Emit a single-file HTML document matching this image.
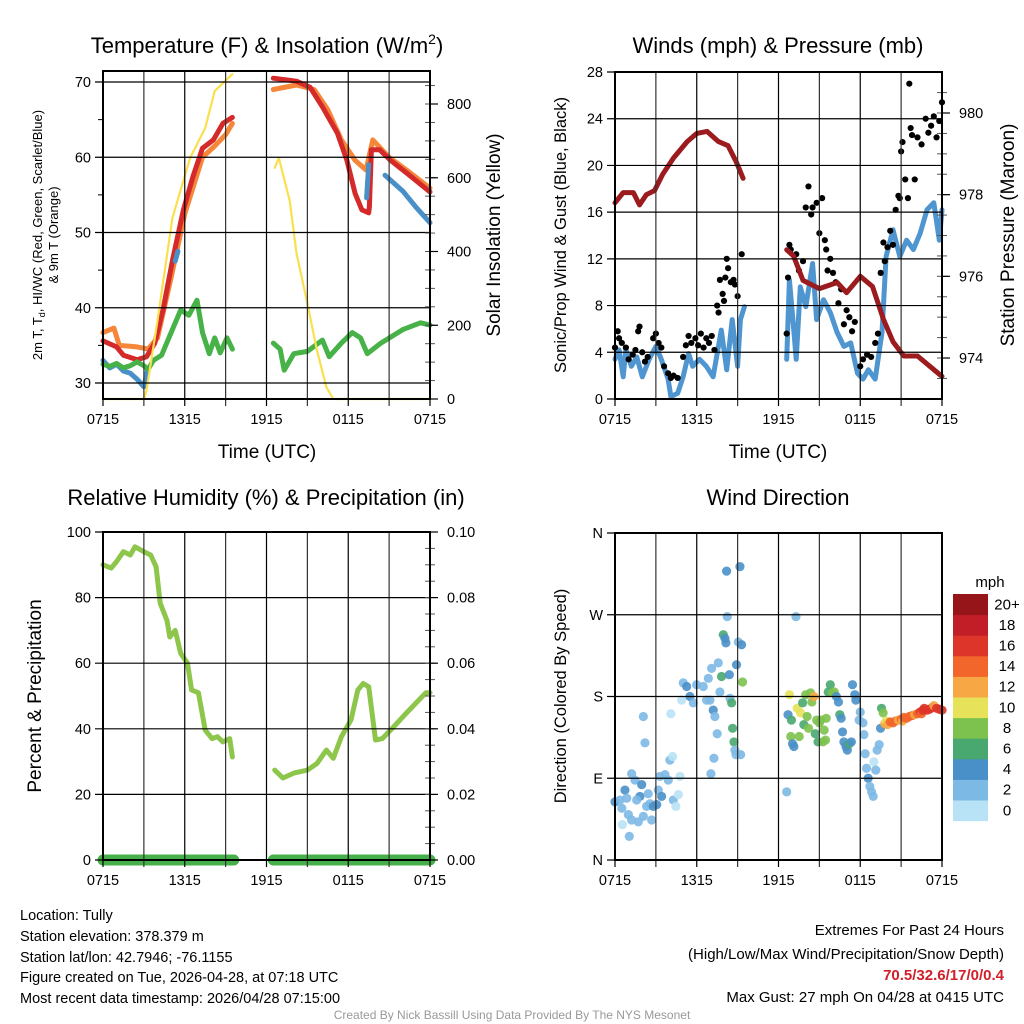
<!DOCTYPE html>
<html><head><meta charset="utf-8"><style>
html,body{margin:0;padding:0;background:#fff;width:1024px;height:1024px;overflow:hidden}
svg{display:block;font-family:"Liberation Sans",sans-serif}
text{fill:#000}
</style></head><body>
<svg id="fig" width="1024" height="1024" viewBox="0 0 1024 1024">
<g id="static">
<text x="267" y="53" font-size="22" text-anchor="middle">Temperature (F) &amp; Insolation (W/m<tspan font-size="14" dy="-9">2</tspan><tspan dy="9">)</tspan></text>
<text x="778" y="53" font-size="22" text-anchor="middle">Winds (mph) &amp; Pressure (mb)</text>
<text x="266" y="505" font-size="22" text-anchor="middle">Relative Humidity (%) &amp; Precipitation (in)</text>
<text x="778" y="505" font-size="22" text-anchor="middle">Wind Direction</text>
<text x="267" y="458" font-size="19" text-anchor="middle">Time (UTC)</text>
<text x="778" y="458" font-size="19" text-anchor="middle">Time (UTC)</text>
<g transform="translate(42,235) rotate(-90)"><text x="0" y="0" font-size="13" text-anchor="middle">2m T, T<tspan font-size="9" dy="3">d</tspan><tspan dy="-3">, HI/WC (Red, Green, Scarlet/Blue)</tspan></text><text x="0" y="16" font-size="13" text-anchor="middle">&amp; 9m T (Orange)</text></g>
<text transform="translate(500,235) rotate(-90)" font-size="19" text-anchor="middle">Solar Insolation (Yellow)</text>
<text transform="translate(566,235) rotate(-90)" font-size="16.5" text-anchor="middle">Sonic/Prop Wind &amp; Gust (Blue, Black)</text>
<text transform="translate(1014,235) rotate(-90)" font-size="19" text-anchor="middle">Station Pressure (Maroon)</text>
<text transform="translate(41,696) rotate(-90)" font-size="19" text-anchor="middle">Percent &amp; Precipitation</text>
<text transform="translate(566,696) rotate(-90)" font-size="16.5" text-anchor="middle">Direction (Colored By Speed)</text>
<g font-size="14.5">
<text x="20" y="920">Location: Tully</text>
<text x="20" y="941">Station elevation: 378.379 m</text>
<text x="20" y="962">Station lat/lon: 42.7946; -76.1155</text>
<text x="20" y="982">Figure created on Tue, 2026-04-28, at 07:18 UTC</text>
<text x="20" y="1003">Most recent data timestamp: 2026/04/28 07:15:00</text>
</g>
<g font-size="15" text-anchor="end">
<text x="1004" y="935">Extremes For Past 24 Hours</text>
<text x="1004" y="959">(High/Low/Max Wind/Precipitation/Snow Depth)</text>
<text x="1004" y="980" style="fill:#D0202A;font-weight:bold">70.5/32.6/17/0/0.4</text>
<text x="1004" y="1002">Max Gust: 27 mph On 04/28 at 0415 UTC</text>
</g>
<text x="512" y="1019" font-size="12" text-anchor="middle" style="fill:#999">Created By Nick Bassill Using Data Provided By The NYS Mesonet</text>
<text x="990" y="587" font-size="15" text-anchor="middle">mph</text>
</g>
</svg>
<script>
// ---------- DATA ----------
const tempHours = [0,1,1.5,2.5,3.2,3.8,4.4,5.1,5.9,6.6,7.3,8.1,8.8,9.5,null,12.5,14.2,15.2,16.1,17.2,17.9,18.5,19,19.5,19.55,19.7,20.3,21.1,22.3,24];
const tempRed   = [35.6,34.8,33.7,33.1,33.5,35.3,39.7,46.3,53,57.4,61.2,62.3,64.5,65.3,null,70.5,70.1,69.3,66.7,63.2,59.6,55.2,53,52.6,53.5,61,61,59.6,57.9,55.4];
const orangeHours = [0,0.8,1.2,2.5,3.3,4,5,6,7.3,8.2,9,9.5,null,12.5,14.2,15.5,16.5,17.5,18.5,19.3,19.8,21,22.5,24];
const tempOrange  = [36.7,37.3,35,34.8,34.5,36,44,52.5,60,61.5,63,64.5,null,69,69.6,69,66.3,62.3,59.6,58.3,62.3,60,58,55.9];
const blueHours = [0,0.5,1,1.5,2,2.5,3,3.3,null,5.3,5.5,null,19.35,19.5,null,20.7,22,23,24];
const tempBlue  = [33,32,32.5,31.6,31.3,30.5,29.5,32,null,46.2,47.5,null,54.6,59,null,57.6,55.5,53.3,51.3];
const dewHours = [0,0.5,1,1.5,2,2.5,3,3.3,3.7,4.3,5,5.7,6.3,6.9,7.3,7.8,8.2,8.6,9.1,9.5,null,12.5,13,13.3,14,15,16.1,16.6,17.5,18.3,18.9,19.4,20.4,22,23.3,24];
const tempDew  = [32.5,32.2,32.6,32,32.3,32.8,32.3,31.8,33,33.7,36.7,39.7,39,41,36.7,33.9,36,34,36,34.5,null,35.3,34.5,31.7,33.9,34.2,35.7,33.5,35.3,36.7,36,33.9,35.3,37.1,38,37.7];
const solarHours = [0,3,3.2,4,5.1,6.4,7.5,8.2,9.5,null,12.6,12.9,13.7,14.2,15,15.7,16.4,16.9,24];
const solarVals  = [0,0,24,213,492,654,735,835,881,null,627,654,538,395,259,132,32,0,0];
const tempTicks = [30,40,50,60,70];
const solarTicks = [0,200,400,600,800];
const timeLabels = ['0715','1315','1915','0115','0715'];
const timeLabelHours = [0,6,12,18,24];

const windHours = [0,0.3,0.6,0.8,1.2,1.6,2,2.5,3,3.4,3.9,4.1,4.6,5,5.4,5.7,6.2,6.7,7.2,7.5,7.8,8.2,8.6,9,9.2,9.5,null,12.6,12.8,13.1,13.3,13.6,14,14.5,14.8,15.3,15.8,16.3,16.8,17.3,17.8,18.2,18.6,19.1,19.6,19.9,20.4,20.9,21.4,21.9,22.4,22.9,23.4,23.8,24];
const windVals  = [3.4,4.2,1.9,4.2,2.8,3.6,1.9,3.4,4.5,3.4,1.7,0.2,0.5,1.9,3.9,2.8,3.4,2.8,1.9,3.9,5.9,2.5,6.8,2.8,6.8,7.9,null,3.4,10.2,6.2,3.4,9.6,7.9,11.6,6.8,8.5,7.4,5.7,4.5,4.8,2.2,1.7,2.5,1.7,5.7,12.2,14.5,12.2,13.6,12.8,14.2,16.2,16.8,13.6,16.2];
const gustHours = [0,0.2,0.3,0.5,0.8,1.0,1.3,1.5,1.7,1.8,2.0,2.2,2.4,2.8,3.0,3.2,3.4,3.6,3.9,4.1,4.3,4.6,5.0,5.2,5.4,5.6,5.9,6.1,6.3,6.5,6.7,6.9,7.1,7.3,7.5,7.6,7.7,7.9,8.0,8.1,8.2,8.3,8.5,8.7,8.8,9.0,9.3,12.6,12.7,12.8,12.9,13.3,13.5,13.8,14.0,14.2,14.4,14.5,14.8,15.0,15.2,15.4,15.5,15.6,15.8,16.0,16.2,16.4,16.6,16.8,17.0,17.2,17.4,17.6,18.0,18.2,18.5,18.8,19.1,19.3,19.5,19.7,19.8,20.0,20.2,20.4,20.6,20.8,20.9,21.0,21.1,21.3,21.5,21.6,21.7,21.8,22.0,22.2,22.5,22.8,23.0,23.2,23.4,23.6,23.8,24.0];
const gustVals  = [4.4,5.8,5.2,4.8,4.4,3.4,3.8,4.2,5.8,6.2,4.0,3.2,3.6,5.2,5.6,4.8,4.4,2.8,2.2,1.8,2.0,1.8,3.6,4.6,5.4,4.8,5.2,4.6,5.6,4.4,5.2,4.8,5.4,4.2,8.0,7.4,10.2,9.0,8.4,10.4,12.0,11.2,10.0,10.2,9.8,8.8,12.4,5.6,10.4,13.2,12.8,12.4,11.0,11.8,16.4,18.2,15.8,16.4,16.8,14.2,17.2,13.6,12.8,11.0,12.0,10.8,10.0,8.2,9.4,6.4,7.6,7.0,5.8,6.6,2.8,3.4,3.8,3.6,4.8,5.6,10.8,13.4,11.8,13.0,14.4,13.2,16.2,17.4,17.2,21.2,22.0,18.8,17.2,27.0,23.2,22.6,18.8,22.4,21.8,24.0,22.8,23.4,24.2,22.4,23.8,25.4];
const presHours = [0,0.6,1.35,1.8,2.3,2.9,3.5,4.3,5.3,6,6.75,7.6,8.3,8.9,9.4,null,12.6,13.1,13.8,15,16.3,17,18,18.9,19.7,20.4,21.2,22.2,23.1,24];
const presVals  = [977.8,978.05,978.05,977.75,978,978.1,978.5,978.9,979.3,979.5,979.55,979.3,979.2,978.8,978.4,null,976.65,976.5,975.9,975.7,975.85,975.6,976,975.75,974.95,974.4,974.05,974.05,973.8,973.55];
const windTicks = [0,4,8,12,16,20,24,28];
const presTicks = [974,976,978,980];

const rhHours = [0,0.6,1,1.5,2,2.35,3,3.5,3.9,4.2,4.7,4.9,5.3,5.7,6.2,6.5,7.0,7.5,8,8.4,8.8,9.3,9.5,null,12.6,13.2,14,15,15.7,16.4,16.9,17.5,18.2,18.7,19.1,19.5,20,20.5,21.2,22.2,23,23.7,24];
const rhVals  = [90,89,91,94,93,95.5,94,93,89.4,78.3,73,68,70,63,60,51.8,51,39.6,37,37.6,36,37,31.4,null,27.4,25,26.5,27.4,29.4,33.5,31,37.6,42.7,51.8,53.8,52.8,36.6,37,40,44.5,48,51,51];
const precipHours = [0,9.6,null,12.5,24];
const precipVals  = [0,0,null,0,0];
const rhTicks = [0,20,40,60,80,100];
const precipTicks = ['0.00','0.02','0.04','0.06','0.08','0.10'];

const dirHours = [0,0.37,0.5,0.73,0.86,0.98,1.05,1.22,1.22,1.47,1.71,1.83,1.96,2.08,2.32,2.44,2.57,2.69,2.81,3.06,3.18,3.3,3.42,3.67,3.91,4.03,4.23,4.28,4.47,4.65,4.77,0.54,1.59,2.08,2.2,4.1,
5.01,5.26,5.5,5.75,5.99,6.48,6.72,6.97,7.21,7.33,7.5,6.85,7.09,7.58,7.7,7.82,7.95,8.07,8.14,8.19,8.24,8.39,8.44,8.56,8.63,8.73,8.8,8.88,8.92,9.05,9.17,9.29,9.22,9.36,7.26,7.04,4.89,
12.6,12.7,12.8,12.95,12.9,13.03,13.13,13.28,13.37,13.52,13.62,13.77,13.86,14.0,14.1,14.2,14.35,14.45,14.6,14.7,14.8,14.9,15.0,15.1,15.25,15.35,15.45,15.5,15.65,15.8,15.95,16.1,16.25,16.4,16.5,16.6,16.7,16.8,16.95,17.05,17.2,17.35,17.43,17.6,17.68,17.92,18.0,18.2,18.27,18.36,18.46,18.58,18.7,18.83,18.95,19.0,19.14,19.24,19.39,19.49,19.56,19.68,
19.8,19.9,20.0,20.2,20.4,20.6,20.8,21.0,21.1,21.2,21.4,21.6,21.8,22.0,22.2,22.4,22.5,22.6,22.7,22.9,23.1,23.3,23.4,23.6,23.8,24.0];
const dirDegs = [64,66,57,77,68,50,26,44,95,88,42,70,83,48,59,73,62,44,59,61,77,92,70,94,88,110,114,66,59,72,92,39,66,158,129,161,
195,191,180,173,193,191,176,176,165,158,139,200,211,217,185,202,248,244,239,318,268,204,178,173,145,130,121,116,215,240,323,237,116,196,112,95,176,
75,160,182,154,136,128,125,268,167,136,162,173,149,182,158,145,184,174,180,139,154,130,151,154,130,143,132,156,185,193,184,185,180,174,160,156,141,130,125,121,128,130,193,182,176,154,163,151,138,117,101,90,81,75,70,108,99,121,127,145,167,162,
150,153,149,152,151,153,154,155,153,157,156,158,159,160,161,163,161,165,167,165,166,168,170,167,166,165];
const dirSpeeds = [4,2,2,4,2,2,2,2,2,2,2,4,4,2,2,2,2,2,4,4,2,2,4,2,2,2,0,2,0,0,0,0,2,2,2,0,
2,4,4,2,2,2,2,2,4,2,2,2,2,2,2,6,6,4,4,4,2,4,2,6,6,6,2,2,4,2,4,4,2,8,2,2,0,
2,4,10,6,8,4,4,2,10,8,10,6,6,8,8,8,8,8,12,6,8,6,8,8,8,8,8,8,6,6,8,8,4,4,6,4,4,4,4,4,6,4,4,4,4,2,2,2,2,2,2,4,2,2,2,0,2,2,2,4,6,8,
12,10,12,14,14,14,12,14,12,14,14,14,14,12,14,16,14,16,16,16,16,16,12,16,16,16];
const dirTicks = ['N','E','S','W','N'];
const dirTickDegs = [0,90,180,270,360];
const cbLabels = ['0','2','4','6','8','10','12','14','16','18','20+'];
const cbColors = ['#B8E2F5','#7DB9E5','#4A90C8','#49A86F','#7DC24E','#E6E25A','#F7A845','#F2662C','#DD3529','#C21E27','#961519'];

// ---------- DRAW ----------
const NS='http://www.w3.org/2000/svg';
const svg=document.getElementById('fig');
function mk(parent,tag,attrs){const e=document.createElementNS(NS,tag);for(const k in attrs)e.setAttribute(k,attrs[k]);parent.appendChild(e);return e;}
function lin(d0,d1,r0,r1){return v=>r0+(v-d0)*(r1-r0)/(d1-d0);}

const P={
 tl:{x0:103,x1:430,y0:71,y1:399},
 tr:{x0:615,x1:942,y0:72,y1:399},
 bl:{x0:103,x1:430,y0:532,y1:860},
 br:{x0:615,x1:942,y0:533,y1:860}
};
for(const k in P){P[k].x=lin(0,24,P[k].x0,P[k].x1);}
const yTemp=lin(30,70,383,82);
const ySolar=lin(0,800,399,104);
const yWind=lin(0,28,399,72);
const yPres=lin(974,980,358,113);
const yRH=lin(0,100,860,532);
const yPrecip=lin(0,0.1,860,532);
const yDir=lin(0,360,860,533);

function pathD(hs,vs,xf,yf){let d='',pen=false;for(let i=0;i<hs.length;i++){if(hs[i]===null||vs[i]===null){pen=false;continue;}d+=(pen?'L':'M')+xf(hs[i]).toFixed(1)+','+yf(vs[i]).toFixed(1);pen=true;}return d;}

function frame(p,name){
 const g=mk(svg,'g',{});
 
 
 for(let h=0;h<=24;h+=3){
  const gl=mk(g,'line',{x1:p.x(h),x2:p.x(h),y1:p.y0,y2:p.y1+7,stroke:(h%6===0?'#000':'#333'),'stroke-width':1.2});
  
  
 }
 const lbl=mk(g,'g',{'font-size':14.5,'text-anchor':'middle'});
 
 
 timeLabels.forEach((t,i)=>{const tx=mk(lbl,'text',{x:p.x(timeLabelHours[i]),y:p.y1+25});tx.textContent=t;
  
  });
 return g;
}
function hgrid(g,p,vals,yf,labels,side){
 vals.forEach((v,i)=>{const y=yf(v);
  const l=mk(g,'line',{x1:p.x0-8,x2:p.x1+(side?8:0),y1:y,y2:y,stroke:'#000','stroke-width':1.2});
  
  
  const t=mk(g,'text',{x:p.x0-12,y:y+5,'font-size':14.5,'text-anchor':'end'});t.textContent=labels?labels[i]:v;
  
  });
}
function border(g,p){
 const r=mk(g,'rect',{x:p.x0,y:p.y0,width:p.x1-p.x0,height:p.y1-p.y0,fill:'none',stroke:'#000','stroke-width':2});
 
 
}
function rightAxis(g,p,vals,yf,labels,minorStep,v0,v1){
 for(let v=v0;v<=v1+1e-9;v+=minorStep){const y=yf(v);if(y<p.y0-1||y>p.y1+1)continue;
  const l=mk(g,'line',{x1:p.x1-5,x2:p.x1+5,y1:y,y2:y,stroke:'#555','stroke-width':1});
  
  }
 vals.forEach((v,i)=>{const y=yf(v);
  const l=mk(g,'line',{x1:p.x1,x2:p.x1+8,y1:y,y2:y,stroke:'#000','stroke-width':1.2});
  
  
  const t=mk(g,'text',{x:p.x1+17,y:y+5,'font-size':14.5});t.textContent=labels?labels[i]:v;
  
  });
}
function line(p,hs,vs,yf,color,w,name){
 const e=mk(svg,'path',{d:pathD(hs,vs,p.x,yf),fill:'none',stroke:color,'stroke-width':w,'stroke-linejoin':'round','stroke-linecap':'round'});
 
 
 return e;
}

// Top-left
let g=frame(P.tl,'temperature');
hgrid(g,P.tl,tempTicks,yTemp,null,false);
[35,45,55,65].forEach(v=>{const m=mk(g,'line',{x1:P.tl.x0-5,x2:P.tl.x0,y1:yTemp(v),y2:yTemp(v),stroke:'#000'});
 
 });
rightAxis(g,P.tl,solarTicks,ySolar,null,50,0,850);
line(P.tl,orangeHours,tempOrange,yTemp,'#F5863A',5,'temp-9m-orange-line');
line(P.tl,tempHours,tempRed,yTemp,'#D52A2A',5,'temp-2m-red-line');
line(P.tl,blueHours,tempBlue,yTemp,'#4A90C8',5,'heat-index-windchill-blue-line');
line(P.tl,dewHours,tempDew,yTemp,'#46B248',5,'dewpoint-green-line');
line(P.tl,solarHours,solarVals,ySolar,'#FAE04E',2.2,'solar-insolation-line');
border(g,P.tl);
svg.appendChild(g);

// Top-right
g=frame(P.tr,'winds');
hgrid(g,P.tr,windTicks,yWind,null,false);
rightAxis(g,P.tr,presTicks,yPres,null,0.5,973.5,980.5);
line(P.tr,windHours,windVals,yWind,'#4F95D0',5,'sustained-wind-line');
const gg=mk(svg,'g',{});


gustHours.forEach((h,i)=>{const c=mk(gg,'circle',{cx:P.tr.x(h),cy:yWind(gustVals[i]),r:3.1,fill:'#000'});
 
 });
line(P.tr,presHours,presVals,yPres,'#9B1B1E',5,'station-pressure-line');
border(g,P.tr);
svg.appendChild(g);

// Bottom-left
g=frame(P.bl,'humidity');
hgrid(g,P.bl,rhTicks,yRH,null,false);
rightAxis(g,P.bl,[0,0.02,0.04,0.06,0.08,0.1],yPrecip,precipTicks,0.005,0,0.1);
line(P.bl,rhHours,rhVals,yRH,'#8DC64B',5,'relative-humidity-line');
line(P.bl,precipHours,precipVals,yPrecip,'#45B04A',11,'precipitation-line');
border(g,P.bl);
svg.appendChild(g);

// Bottom-right
g=frame(P.br,'wind-direction');
hgrid(g,P.br,dirTickDegs,yDir,dirTicks,false);
const dg=mk(svg,'g',{});


dirHours.forEach((h,i)=>{const idx=Math.min(10,Math.round(dirSpeeds[i]/2));
 const c=mk(dg,'circle',{cx:P.br.x(h),cy:yDir(dirDegs[i]),r:4.6,fill:cbColors[idx],'fill-opacity':0.9});
 
 });
border(g,P.br);
svg.appendChild(g);

// Colorbar
const cb=mk(svg,'g',{});


const cbTop=594,cbH=20.6;
for(let i=0;i<cbColors.length;i++){
 const y=cbTop+(cbColors.length-1-i)*cbH;
 const r=mk(cb,'rect',{x:953,y:y,width:35,height:cbH+0.5,fill:cbColors[i]});
 
 
 const t=mk(cb,'text',{x:1007,y:y+cbH/2+5,'font-size':15,'text-anchor':'middle'});t.textContent=cbLabels[i];
 
 
}
</script>
</body></html>
